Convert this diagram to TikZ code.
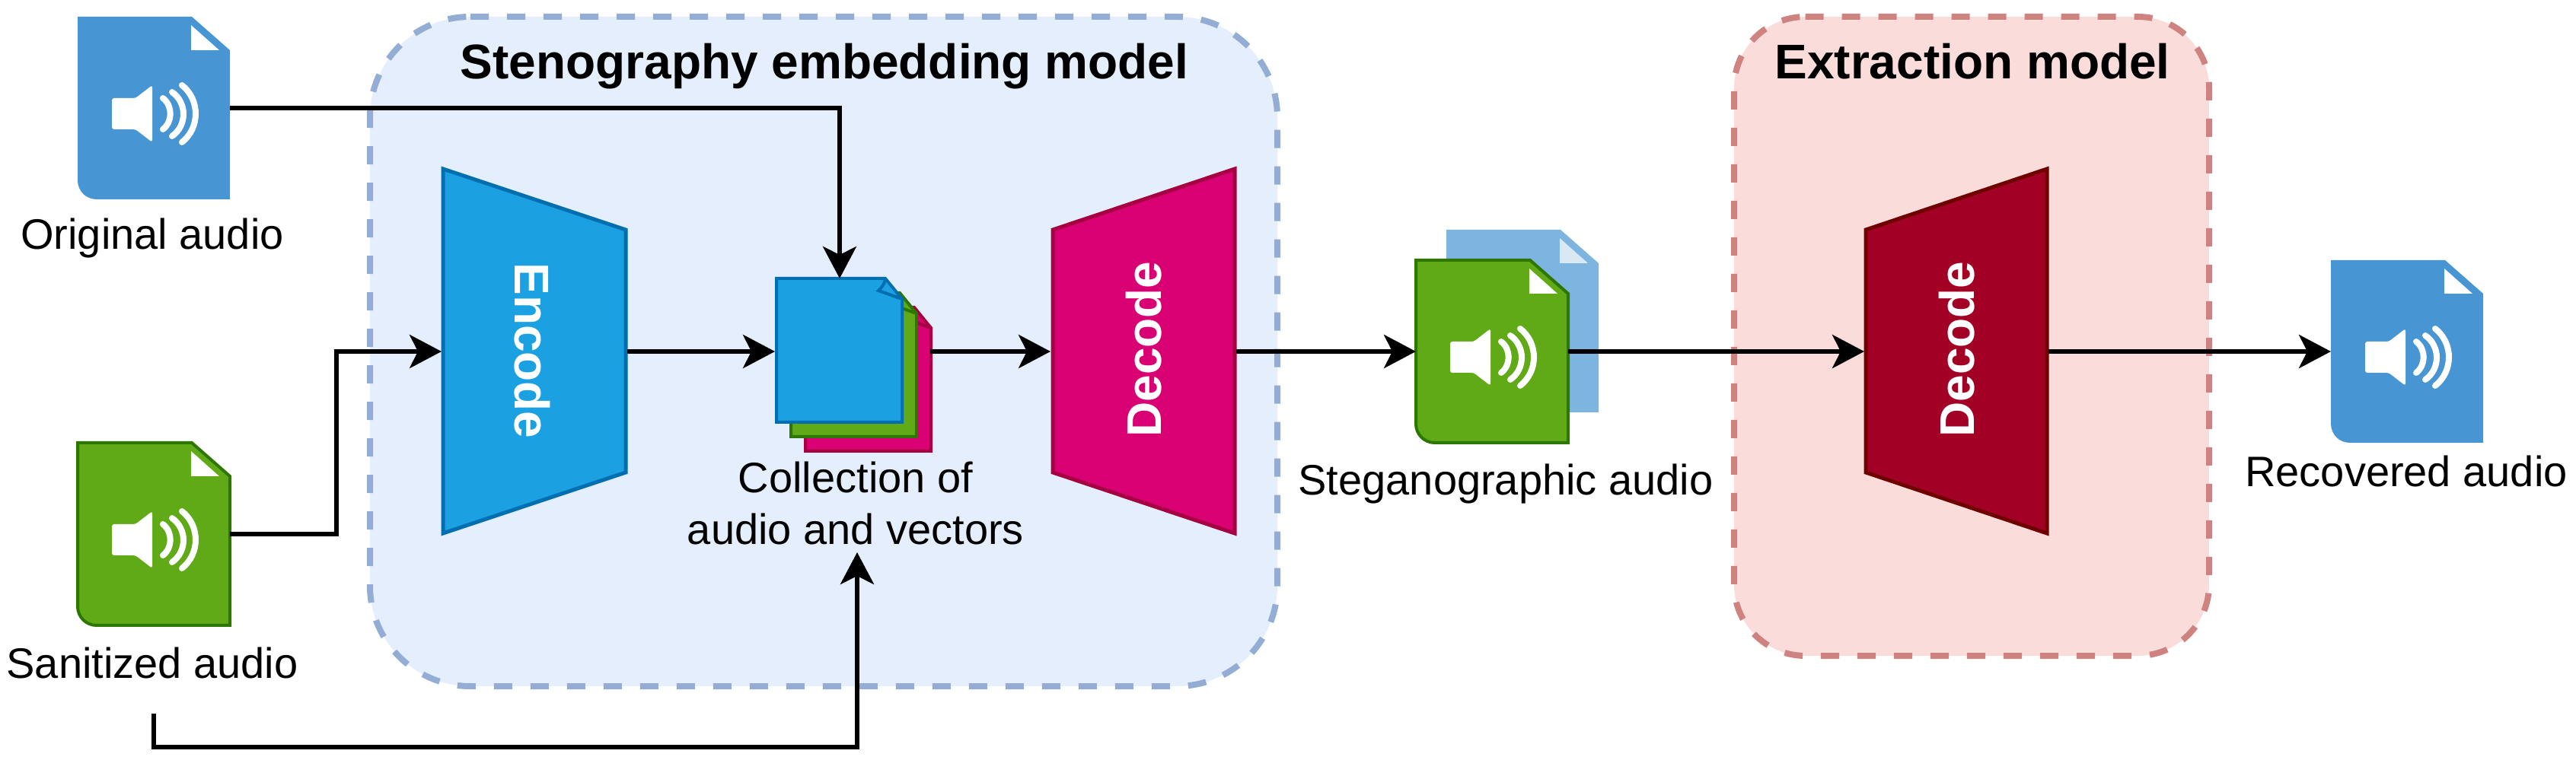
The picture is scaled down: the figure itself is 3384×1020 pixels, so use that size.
\documentclass[tikz,border=0pt]{standalone}
\usepackage{fontspec}
\setmainfont{Liberation Sans}
\usetikzlibrary{arrows.meta}
\definecolor{filecol}{HTML}{4795D2}
\definecolor{fileback}{HTML}{7EB4E0}
\definecolor{foldback}{HTML}{D9E8F5}
\definecolor{greenfill}{HTML}{60A917}
\definecolor{greenline}{HTML}{2D7600}
\definecolor{bluefill}{HTML}{1BA1E2}
\definecolor{blueline}{HTML}{006EAF}
\definecolor{pinkfill}{HTML}{D80073}
\definecolor{pinkline}{HTML}{A50040}
\definecolor{redfill}{HTML}{A20025}
\definecolor{redline}{HTML}{6F0000}
\definecolor{groupblue}{HTML}{E4EEFD}
\definecolor{groupblueline}{HTML}{94ADD4}
\definecolor{groupred}{HTML}{FADCDB}
\definecolor{groupredline}{HTML}{CE8380}
\tikzset{
  groupline/.style={line width=4pt,dash pattern=on 12pt off 12pt},
  anchorbox/.style={inner sep=0pt,outer sep=0pt,minimum width=#1},
  label/.style={inner sep=0pt,outer sep=0pt,font=\fontsize{28}{34}\selectfont,text=black},
  title/.style={inner sep=0pt,outer sep=0pt,font=\fontsize{32}{38}\selectfont\bfseries,text=black},
  blocktext/.style={inner sep=0pt,outer sep=0pt,font=\fontsize{32}{38}\selectfont\bfseries,text=white},
  block/.style={line width=2.5pt,line join=miter},
  conn/.style={line width=3pt,-{Stealth[length=21pt,width=22pt,inset=5.5pt]}},
}
% x, y of the page corner of the icon, fill, outline, colour of the marks
\newcommand{\audiofile}[5]{%
  \begin{scope}[shift={(#1,#2)}]
    \path[fill=#3,#4] (0,0) -- (150,0) -- (200,44) -- (200,240) -- (25,240)
       .. controls (11,240) and (0,229) .. (0,215) -- cycle;
    \path[fill=#5] (149,11) -- (186,44) -- (149,44) -- cycle;
    \path[fill=#5,rounded corners=1.5pt] (45,107) -- (76,107) -- (98,90) -- (98,165) -- (76,148) -- (45,148) -- cycle;
    \draw[#5,line width=4pt,line cap=round] (112,107) .. controls (125,117) and (125,138) .. (112,148);
    \draw[#5,line width=4pt,line cap=round] (124,99) .. controls (144,113) and (144,143) .. (124,157);
    \draw[#5,line width=4pt,line cap=round] (137,90) .. controls (161,109) and (161,146) .. (137,165);
  \end{scope}}
\newcommand{\colldoc}[4]{%
  \begin{scope}[shift={(#1,#2)}]
    \path[fill=#3,draw=#4,line width=2pt] (0,0) -- (143,0) -- (165,27) -- (165,189) -- (0,189) -- cycle;
    \draw[#4,line width=2pt] (143,0) .. controls (142,8) and (138,12) .. (134,16) -- (165,27);
  \end{scope}}
% outlines of the two groups: they start where the top edge leaves the corner
\newcommand{\groupApath}{(618,22) -- (1546,22) .. controls (1619,22) and (1678,81) .. (1678,154) -- (1678,770) .. controls (1678,843) and (1619,902) .. (1546,902) -- (618,902) .. controls (545,902) and (486,843) .. (486,770) -- (486,154) .. controls (486,81) and (545,22) .. (618,22)}
\newcommand{\groupBpath}{(2371.6,22) -- (2808.4,22) .. controls (2860.1,22) and (2902,63.9) .. (2902,115.6) -- (2902,768.4) .. controls (2902,820.1) and (2860.1,862) .. (2808.4,862) -- (2371.6,862) .. controls (2319.9,862) and (2278,820.1) .. (2278,768.4) -- (2278,115.6) .. controls (2278,63.9) and (2319.9,22) .. (2371.6,22)}
\begin{document}
\begin{tikzpicture}[x=0.5pt,y=-0.5pt]
\useasboundingbox (0,0) rectangle (3384,1020);

% groups
\path[fill=groupblue] \groupApath -- cycle;
\draw[groupblueline,groupline] \groupApath;
\path[fill=groupred] \groupBpath -- cycle;
\draw[groupredline,groupline] \groupBpath;
\node[title,anchor=base] (titleA) at (1083,104) {Stenography embedding model};
\node[title,anchor=base] (titleB) at (2591,104) {Extraction model};

% audio files
\audiofile{102}{22}{filecol}{}{white}
\audiofile{102}{582}{greenfill}{draw=greenline,line width=2pt}{white}
\audiofile{1900}{302}{fileback}{}{foldback}
\audiofile{1860}{342}{greenfill}{draw=greenline,line width=2pt}{white}
\audiofile{3062}{342}{filecol}{}{white}

% trapezoids
\path[block,fill=bluefill,draw=blueline] (582,222) -- (822,302) -- (822,621) -- (582,701) -- cycle;
\path[block,fill=pinkfill,draw=pinkline] (1383,302) -- (1622,222) -- (1622,701) -- (1383,621) -- cycle;
\path[block,fill=redfill,draw=redline] (2451,302) -- (2689,222) -- (2689,701) -- (2451,621) -- cycle;
\node[blocktext,rotate=-90,anchor=base] (enctext) at (676,461) {Encode};
\node[blocktext,rotate=90,anchor=base] (dectextA) at (1525,459) {Decode};
\node[blocktext,rotate=90,anchor=base] (dectextB) at (2593,459) {Decode};

% stacked documents
\colldoc{1058}{404}{pinkfill}{pinkline}
\colldoc{1039}{385}{greenfill}{greenline}
\colldoc{1020}{366}{bluefill}{blueline}

% anchors of the connectors
\node[anchorbox=100pt,minimum height=120pt] (orig) at (202,142) {};
\node[anchorbox=100pt,minimum height=120pt] (sani) at (202,702) {};
\node[anchorbox=100pt,minimum height=120pt] (steg) at (1960,462) {};
\node[anchorbox=100pt,minimum height=120pt] (reco) at (3162,462) {};
\node[anchorbox=122pt,minimum height=242pt] (enc) at (702,462) {};
\node[anchorbox=122pt,minimum height=242pt] (decA) at (1502,462) {};
\node[anchorbox=121pt,minimum height=242pt] (decB) at (2570,462) {};
\coordinate (collTop) at (1103,366);
\coordinate (collWest) at (1018,462);
\coordinate (collEast) at (1222,462);
\coordinate (saniFree) at (202,938);
\coordinate (collBottom) at (1126,726);

% labels
\node[label,anchor=base] (lorig) at (200,328) {Original audio};
\node[label,anchor=base] (lsani) at (200,892) {Sanitized audio};
\node[label,anchor=base] (lsteg) at (1978,651) {Steganographic audio};
\node[label,anchor=base] (lreco) at (3161,640) {Recovered audio};
\node[label,anchor=base,align=center] (lcoll) at (1124,716) {Collection of\\audio and vectors};

% connectors
\draw[conn] (orig.east) -- (1103,142) -- (collTop);
\draw[conn] (sani.east) -- (442,702) -- (442,462) -- (enc.west);
\draw[conn] (saniFree) -- (202,982) -- (1126,982) -- (collBottom);
\draw[conn] (enc.east) -- (collWest);
\draw[conn] (collEast) -- (decA.west);
\draw[conn] (decA.east) -- (steg.west);
\draw[conn] (steg.east) -- (decB.west);
\draw[conn] (decB.east) -- (reco.west);
\end{tikzpicture}
\end{document}
